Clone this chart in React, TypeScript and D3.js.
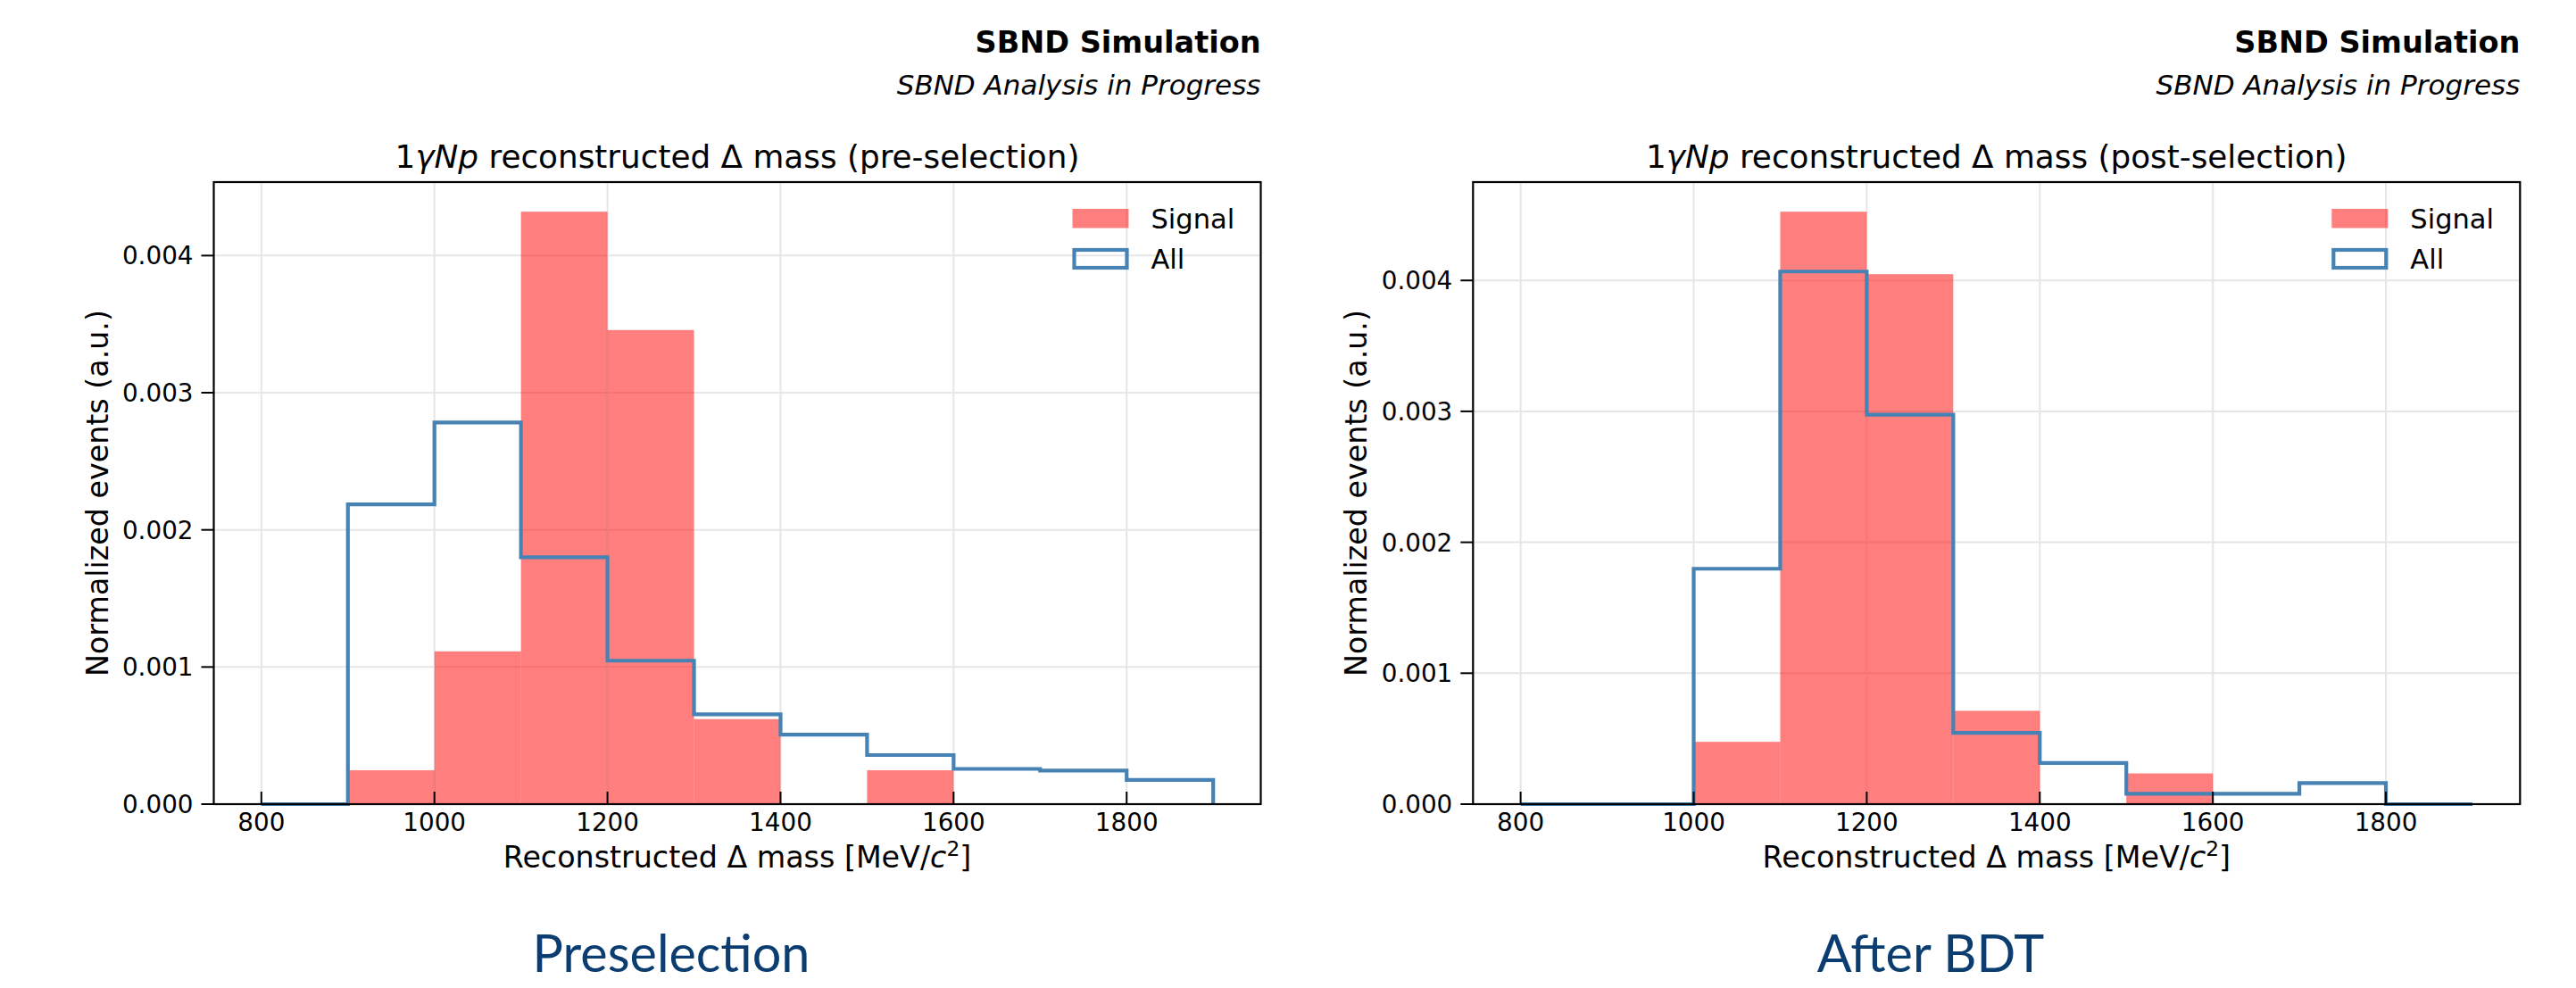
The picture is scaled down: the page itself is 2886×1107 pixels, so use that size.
import React from "react";
import * as d3 from "d3";

// ---- data ----
const binEdges = [800, 900, 1000, 1100, 1200, 1300, 1400, 1500, 1600, 1700, 1800, 1900];
const xTicks = [800, 1000, 1200, 1400, 1600, 1800];
const yTicks = [0, 0.001, 0.002, 0.003, 0.004];

const signalPre = [0, 0.000247, 0.001114, 0.00432, 0.003457, 0.00062, 0, 0.000247, 0, 0, 0];
const allPre = [0, 0.002186, 0.002783, 0.0018, 0.001046, 0.000655, 0.000507, 0.000358, 0.000257, 0.000245, 0.000177];

const signalPost = [0, 0, 0.000476, 0.004525, 0.004048, 0.000713, 0, 0.000235, 0, 0, 0];
const allPost = [0, 0, 0.001798, 0.004068, 0.002975, 0.000545, 0.000314, 0.000079, 0.000079, 0.000161, 0];

const titles = ["(pre-selection)", "(post-selection)"];
const bottomLabels = ["Preselection", "After BDT"];
const legendLabels = ["Signal", "All"];

const FONT = "DejaVu Sans";
const SIGNAL_COLOR = "#ff0000";
const ALL_COLOR = "#4682b4";

type PanelProps = {
  offset: number;
  signal: number[];
  all: number[];
  titleSuffix: string;
  bottomLabel: string;
  bottomX: number;
};

function Panel({ offset, signal, all, titleSuffix, bottomLabel, bottomX }: PanelProps) {
  const left = 239.5 + offset;
  const right = 1412.5 + offset;
  const top = 204;
  const bottom = 901;
  const ymax = (d3.max([...signal, ...all]) as number) * 1.05;
  const x = d3.scaleLinear().domain([745, 1955]).range([left, right]);
  const y = d3.scaleLinear().domain([0, ymax]).range([bottom, top]);

  const stepPts: [number, number][] = [[binEdges[0], 0]];
  all.forEach((v, i) => {
    stepPts.push([binEdges[i], v]);
    stepPts.push([binEdges[i + 1], v]);
  });
  stepPts.push([binEdges[binEdges.length - 1], 0]);
  const line = d3
    .line<[number, number]>()
    .x((d) => x(d[0]))
    .y((d) => y(d[1]));

  const cx = (left + right) / 2;
  const cy = (top + bottom) / 2;
  const fmt = d3.format(".3f");

  return (
    <g>
      {/* grid */}
      {xTicks.map((t) => (
        <line key={"gx" + t} x1={x(t)} x2={x(t)} y1={top} y2={bottom} stroke="#e6e6e6" strokeWidth={2} />
      ))}
      {yTicks.map((t) => (
        <line key={"gy" + t} x1={left} x2={right} y1={y(t)} y2={y(t)} stroke="#e6e6e6" strokeWidth={2} />
      ))}
      {/* signal bars */}
      {signal.map((v, i) =>
        v > 0 ? (
          <rect
            key={"s" + i}
            x={x(binEdges[i])}
            width={x(binEdges[i + 1]) - x(binEdges[i])}
            y={y(v)}
            height={y(0) - y(v)}
            fill={SIGNAL_COLOR}
            fillOpacity={0.5}
          />
        ) : null
      )}
      {/* all step */}
      <path d={line(stepPts) || ""} fill="none" stroke={ALL_COLOR} strokeWidth={4.2} strokeLinejoin="miter" />
      {/* spines */}
      <rect x={left} y={top} width={right - left} height={bottom - top} fill="none" stroke="#000" strokeWidth={2.2} />
      {/* x ticks (inward) */}
      {xTicks.map((t) => (
        <g key={"xt" + t}>
          <line x1={x(t)} x2={x(t)} y1={bottom} y2={bottom - 14} stroke="#000" strokeWidth={2} />
          <text x={x(t)} y={931} textAnchor="middle" fontFamily={FONT} fontSize={27.8} fill="#000">
            {t}
          </text>
        </g>
      ))}
      {/* y ticks (outward) */}
      {yTicks.map((t) => (
        <g key={"yt" + t}>
          <line x1={left} x2={left - 14} y1={y(t)} y2={y(t)} stroke="#000" strokeWidth={2} />
          <text x={left - 23} y={y(t) + 10} textAnchor="end" fontFamily={FONT} fontSize={27.8} fill="#000">
            {fmt(t)}
          </text>
        </g>
      ))}
      {/* axis labels */}
      <text x={cx} y={972} textAnchor="middle" fontFamily={FONT} fontSize={33.3} fill="#000">
        Reconstructed Δ mass [MeV/<tspan fontStyle="italic">c</tspan>
        <tspan fontSize={23.3} dy={-13}>2</tspan>
        <tspan dy={13}>]</tspan>
      </text>
      <text
        transform={`translate(${left - 119},${cy}) rotate(-90)`}
        textAnchor="middle"
        fontFamily={FONT}
        fontSize={33.3}
        fill="#000"
      >
        Normalized events (a.u.)
      </text>
      {/* title */}
      <text x={cx} y={188} textAnchor="middle" fontFamily={FONT} fontSize={35.8} fill="#000">
        1<tspan fontStyle="italic">γNp</tspan> reconstructed Δ mass {titleSuffix}
      </text>
      {/* SBND labels */}
      <text x={right} y={59} textAnchor="end" fontFamily={FONT} fontWeight="bold" fontSize={33.5} fill="#000">
        SBND Simulation
      </text>
      <text x={right} y={106} textAnchor="end" fontFamily={FONT} fontStyle="italic" fontSize={31} fill="#000">
        SBND Analysis in Progress
      </text>
      {/* legend */}
      <rect x={right - 211} y={234} width={63} height={21.5} fill={SIGNAL_COLOR} fillOpacity={0.5} />
      <text x={right - 123} y={256} fontFamily={FONT} fontSize={30.5} fill="#000">
        {legendLabels[0]}
      </text>
      <rect x={right - 209} y={280} width={59} height={20} fill="none" stroke={ALL_COLOR} strokeWidth={4.2} />
      <text x={right - 123} y={301} fontFamily={FONT} fontSize={30.5} fill="#000">
        {legendLabels[1]}
      </text>
      {/* bottom label */}
      <text x={bottomX} y={1089} textAnchor="middle" fontFamily="Lato" fontSize={57.5} fill="#0b3d70">
        {bottomLabel}
      </text>
    </g>
  );
}

export default function App() {
  return (
    <div style={{ position: "absolute", left: 0, top: 0 }}>
      <svg width={2886} height={1107} viewBox="0 0 2886 1107" style={{ display: "block", background: "#fff" }}>
        <rect x={0} y={0} width={2886} height={1107} fill="#fff" />
        <Panel offset={0} signal={signalPre} all={allPre} titleSuffix={titles[0]} bottomLabel={bottomLabels[0]} bottomX={752} />
        <Panel
          offset={1410.8}
          signal={signalPost}
          all={allPost}
          titleSuffix={titles[1]}
          bottomLabel={bottomLabels[1]}
          bottomX={2163}
        />
      </svg>
    </div>
  );
}
